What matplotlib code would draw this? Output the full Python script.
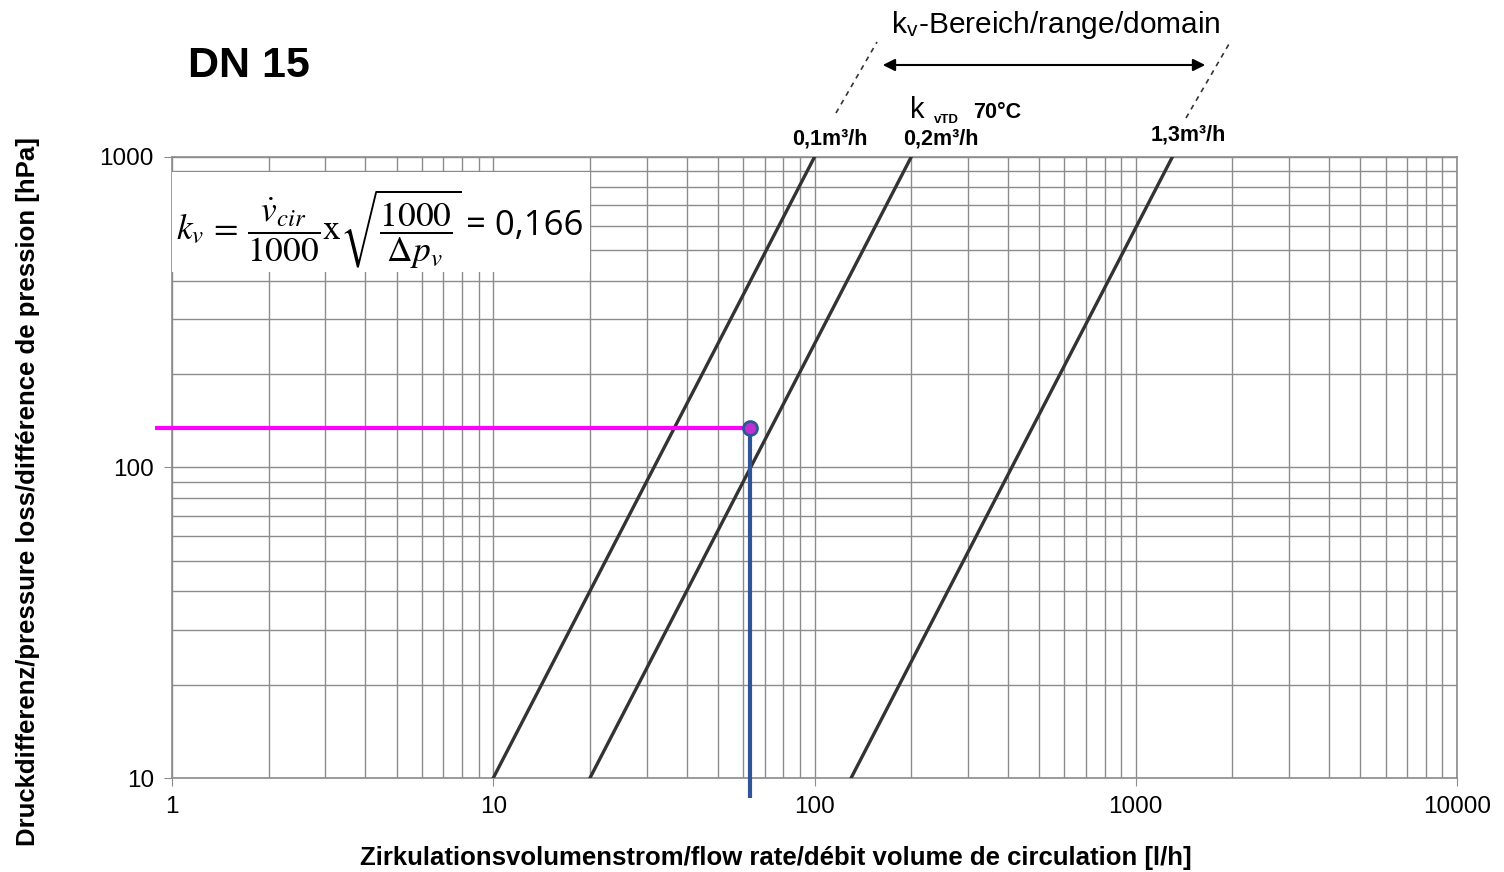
import matplotlib.pyplot as plt
from matplotlib.lines import Line2D
from matplotlib.patches import Rectangle
from matplotlib.ticker import LogLocator, NullFormatter, FixedLocator, FixedFormatter

plt.rcParams['font.family'] = ['Liberation Sans', 'DejaVu Sans']
plt.rcParams['mathtext.fontset'] = 'stix'

# kv-Kennlinien: Durchfluss [l/h] bei 10 hPa und bei 1000 hPa
kv_labels = ['0,1m³/h', '0,2m³/h', '1,3m³/h']
dp_ends = [10, 1000]
flow_at_10 = [10, 20, 130]
flow_at_1000 = [100, 200, 1300]

# Betriebspunkt
v_point = 63
dp_point = 134

x_ticks = [1, 10, 100, 1000, 10000]
y_ticks = [10, 100, 1000]

W, H = 1504, 872


def fx(px):
    return px / W


def fy(py):
    return 1 - py / H


fig = plt.figure(figsize=(W / 100, H / 100), dpi=100)
ax = fig.add_axes([fx(172), fy(778), (1457 - 172) / W, (778 - 157) / H])
ax.set_xscale('log')
ax.set_yscale('log')
ax.set_xlim(1, 10000)
ax.set_ylim(10, 1000)

grid_c = '#8c8c8c'
ax.xaxis.set_minor_locator(LogLocator(base=10, subs=range(2, 10)))
ax.yaxis.set_minor_locator(LogLocator(base=10, subs=range(2, 10)))
ax.xaxis.set_minor_formatter(NullFormatter())
ax.yaxis.set_minor_formatter(NullFormatter())
ax.xaxis.set_major_locator(FixedLocator(x_ticks))
ax.xaxis.set_major_formatter(FixedFormatter([str(t) for t in x_ticks]))
ax.yaxis.set_major_locator(FixedLocator(y_ticks))
ax.yaxis.set_major_formatter(FixedFormatter([str(t) for t in y_ticks]))
ax.grid(True, which='both', color=grid_c, lw=1.0)
ax.tick_params(which='major', length=6, color=grid_c, labelsize=17.5, pad=7)
ax.tick_params(which='minor', length=0)
for s in ax.spines.values():
    s.set_color(grid_c)
    s.set_linewidth(1.2)

for f10, f1000 in zip(flow_at_10, flow_at_1000):
    ax.plot([f10, f1000], dp_ends, color='#333333', lw=2.4, zorder=4)

# Betriebspunkt mit Hilfslinien
ax.hlines(dp_point, 0.885, v_point, color='#ff00ff', lw=3, clip_on=False, zorder=5)
ax.vlines(v_point, 8.6, dp_point, color='#2f5597', lw=3, clip_on=False, zorder=5)
ax.plot(v_point, dp_point, 'o', ms=10, mfc='#c030d0', mec='#2f5597', mew=2, zorder=6)

# Formelfeld
ax.add_patch(Rectangle((0, 0.815), (590 - 172) / (1457 - 172), (778 - 172) / 621 - 0.815,
                       transform=ax.transAxes, facecolor='white', edgecolor='none', zorder=3))
fig.text(fx(176), fy(229), r'$k_v\,=\,\dfrac{\dot{v}_{cir}}{1000}\mathrm{x}\sqrt{\dfrac{1000}{\Delta p_v}}$',
         fontsize=25.5, va='center', ha='left', zorder=7)
fig.text(fx(466), fy(226), '= 0,166', fontsize=25, va='center', ha='left',
         family=['Open Sans', 'DejaVu Sans'], zorder=7)

fig.text(fx(776), fy(858), 'Zirkulationsvolumenstrom/flow rate/débit volume de circulation [l/h]',
         fontsize=18.5, fontweight='bold', ha='center', va='center')
fig.text(fx(28), fy(492), 'Druckdifferenz/pressure loss/différence de pression [hPa]',
         fontsize=18.5, fontweight='bold', rotation=90, ha='center', va='center')

fig.text(fx(188), fy(66), 'DN 15', fontsize=31, fontweight='bold', ha='left', va='center')

# Beschriftung der Kennlinien
fig.text(fx(830), fy(139), kv_labels[0], fontsize=15.5, fontweight='bold', ha='center', va='center')
fig.text(fx(941), fy(139), kv_labels[1], fontsize=15.5, fontweight='bold', ha='center', va='center')
fig.text(fx(1188), fy(135), kv_labels[2], fontsize=15.5, fontweight='bold', ha='center', va='center')
fig.text(fx(910), fy(110), 'k', fontsize=21, ha='left', va='center')
fig.text(fx(934), fy(120), 'vTD', fontsize=9.5, fontweight='bold', ha='left', va='center')
fig.text(fx(973), fy(112), '70°C', fontsize=15.5, fontweight='bold', ha='left', va='center')

# kv-Bereich
fig.text(fx(1056), fy(25), r'k$_\mathregular{v}$-Bereich/range/domain', fontsize=21.5,
         ha='center', va='center')
ax.annotate('', xy=(fx(1208), fy(65)), xytext=(fx(880), fy(65)), xycoords='figure fraction',
            textcoords='figure fraction',
            arrowprops=dict(arrowstyle='<|-|>', color='black', lw=1.5, mutation_scale=18))
for x0, y0, x1, y1 in [(836, 113, 877, 42), (1186, 118, 1229, 44)]:
    fig.add_artist(Line2D([fx(x0), fx(x1)], [fy(y0), fy(y1)], transform=fig.transFigure,
                          color='#333333', lw=1.2, ls=(0, (3, 3))))

fig.savefig('out.png', dpi=100)
